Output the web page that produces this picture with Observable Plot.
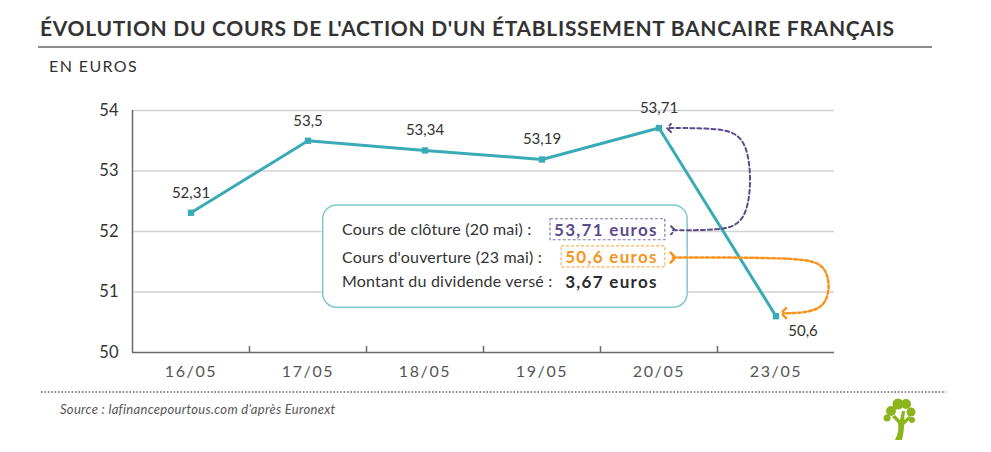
<!DOCTYPE html>
<html>
<head>
<meta charset="utf-8">
<script src="https://cdn.jsdelivr.net/npm/d3@7"></script>
<script src="https://cdn.jsdelivr.net/npm/@observablehq/plot@0.6"></script>
<style>
  html, body { margin: 0; padding: 0; background: #fff; }
  #wrap { position: relative; width: 991px; height: 452px; overflow: hidden; font-family: Lato, "Open Sans", sans-serif; color: #333; }
  #title { position: absolute; left: 40px; top: 15px; font-size: 21px; font-weight: 700; line-height: 26px; color: #333; white-space: nowrap; letter-spacing: 0.7px; }
  #rule { position: absolute; left: 38px; top: 46px; width: 894px; height: 2px; background: #8c8c8c; }
  #unit { position: absolute; left: 49px; top: 56px; font-size: 16px; line-height: 20px; color: #333; letter-spacing: 1.4px; }
  #chart { position: absolute; left: 0; top: 85px; }
  #dots { position: absolute; left: 40px; top: 390px; }
  #source { position: absolute; left: 60px; top: 401px; font-style: italic; font-size: 13px; line-height: 16px; color: #555; white-space: nowrap; letter-spacing: 0.3px; }
  #logo { position: absolute; left: 880px; top: 396px; }
</style>
</head>
<body>
<div id="wrap">
  <div id="title">ÉVOLUTION DU COURS DE L'ACTION D'UN ÉTABLISSEMENT BANCAIRE FRANÇAIS</div>
  <div id="rule"></div>
  <div id="unit">EN EUROS</div>
  <div id="chart"></div>
  <svg id="dots" width="910" height="4"><line x1="1" y1="2" x2="906" y2="2" stroke="#8a8a8a" stroke-width="2" stroke-dasharray="1.6,1.8"/></svg>
  <div id="source">Source : lafinancepourtous.com d’après Euronext</div>
  <svg id="logo" width="40" height="46" viewBox="0 0 40 46">
    <g fill="#8cb41c">
      <path d="M15 44 C18 38 19 32 18 27 L12 21 L15 19 L20 24 L22 15 L25 15 L24 24 L29 20 L31 22 L24 29 C24 35 23 40 22 44 Z"/>
      <circle cx="11" cy="15" r="5"/>
      <circle cx="18" cy="8" r="5.5"/>
      <circle cx="26" cy="8" r="5"/>
      <circle cx="31" cy="16" r="4.5"/>
      <circle cx="7" cy="22" r="3.5"/>
      <circle cx="32" cy="24" r="3"/>
    </g>
  </svg>
</div>
<script>
// ---- data ----
const dates = ["16/05", "17/05", "18/05", "19/05", "20/05", "23/05"];
const prices = [52.31, 53.5, 53.34, 53.19, 53.71, 50.6];
const priceLabels = ["52,31", "53,5", "53,34", "53,19", "53,71", "50,6"];
const yTicks = [50, 51, 52, 53, 54];
const annotationLabels = ["Cours de clôture (20 mai) :", "Cours d'ouverture (23 mai) :", "Montant du dividende versé :"];
const annotationValues = ["53,71 euros", "50,6 euros", "3,67 euros"];
const annotationColors = ["#5c4b8c", "#f7941d", "#2b2b2b"];

// ---- build ----
const teal = "#3aabb5";
const data = dates.map((d, i) => ({i, date: d, price: prices[i], label: priceLabels[i]}));
const n = dates.length;
const xDomain = [-0.5, n - 0.5];
const boundaries = d3.range(1, n).map(i => i - 0.5);
const iClose = 4, iOpen = 5;

// annotation layout (data units)
const rowY = [52.02, 51.57, 51.16];
const box = {x1: 1.13, x2: 4.245, y1: 50.74, y2: 52.43};
const labelX = 1.29;
const valueX = 3.99;
const purplePath = [
  {x: 4.12, y: rowY[0]}, {x: 4.5, y: rowY[0]}, {x: 4.79, y: rowY[0] + 0.1},
  {x: 4.79, y: prices[iClose] - 0.12}, {x: 4.5, y: prices[iClose]}, {x: 4.085, y: prices[iClose]}
];
const orangePath = [
  {x: 4.12, y: rowY[1]}, {x: 5.18, y: rowY[1]}, {x: 5.46, y: rowY[1] - 0.1},
  {x: 5.46, y: prices[iOpen] + 0.15}, {x: 5.22, y: prices[iOpen] + 0.05}, {x: 5.065, y: prices[iOpen] + 0.05}
];

const chart = Plot.plot({
  width: 991,
  height: 300,
  marginTop: 25,
  marginBottom: 33,
  marginLeft: 132,
  marginRight: 157,
  x: {type: "linear", domain: xDomain, axis: null},
  y: {domain: [50, 54], axis: null},
  style: {fontFamily: "Lato, 'Open Sans', sans-serif", background: "transparent", color: "#333"},
  marks: [
    Plot.ruleY(yTicks.filter(v => v > 50), {stroke: "#d2d2d2", strokeWidth: 1.5}),
    Plot.ruleY([50], {stroke: "#6a6a6a", strokeWidth: 1.5}),
    Plot.ruleX([xDomain[0]], {y1: 50, y2: 54, stroke: "#6a6a6a", strokeWidth: 1.5}),
    Plot.axisX(boundaries, {tickSize: -6, tickFormat: () => "", stroke: "#6a6a6a", strokeWidth: 1.5}),
    Plot.axisX(d3.range(n), {tickSize: 0, tickPadding: 13, tickFormat: i => dates[i], fontSize: 16, fill: "#555"}),
    Plot.axisY(yTicks, {tickSize: 0, tickPadding: 14, fontSize: 16.5, fill: "#333", tickFormat: d => d}),
    Plot.line(data, {x: "i", y: "price", stroke: teal, strokeWidth: 3}),
    Plot.dot(data, {x: "i", y: "price", symbol: "square", fill: teal, r: 3.6}),
    Plot.text(data.filter(d => d.i !== iOpen), {x: "i", y: "price", text: "label", dy: -20, fontSize: 15, fill: "#333"}),
    Plot.text(data.filter(d => d.i === iOpen), {x: "i", y: "price", text: "label", dx: 27, dy: 15, fontSize: 15, fill: "#333"}),
    Plot.rect([box], {x1: "x1", x2: "x2", y1: "y1", y2: "y2", fill: "white", stroke: "#80c8ce", strokeWidth: 1.5, rx: 14}),
    Plot.text(annotationLabels, {x: () => labelX, y: (d, i) => rowY[i], text: d => d, textAnchor: "start", fontSize: 16, fill: "#333", ariaLabel: () => "annlabel"}),
    ...annotationValues.map((v, i) => Plot.text([v], {
      x: () => valueX, y: () => rowY[i], text: d => d, textAnchor: "end",
      fontSize: 17, fontWeight: "bold", fill: annotationColors[i], ariaLabel: () => "annvalue" + i
    })),
    Plot.line(purplePath, {x: "x", y: "y", curve: "basis", stroke: annotationColors[0], strokeWidth: 2, strokeDasharray: "4,3", markerStart: "arrow", markerEnd: "arrow"}),
    Plot.line(orangePath, {x: "x", y: "y", curve: "basis", stroke: annotationColors[1], strokeWidth: 2.5, strokeDasharray: "3,2.5", markerStart: "arrow", markerEnd: "arrow"})
  ]
});
document.getElementById("chart").appendChild(chart);

// letter spacing to mimic the wider original typeface
chart.querySelectorAll('g[aria-label="x-axis tick label"] text').forEach(t => t.style.letterSpacing = "1.6px");
chart.querySelectorAll('text[aria-label="annlabel"]').forEach(t => t.style.letterSpacing = "0.2px");
[0, 1, 2].forEach(i => chart.querySelectorAll(`text[aria-label="annvalue${i}"]`).forEach(t => t.style.letterSpacing = "1.3px"));

// dashed frames around the two highlighted values
[0, 1].forEach(i => {
  const t = chart.querySelector(`text[aria-label="annvalue${i}"]`);
  if (!t) return;
  const b = t.getBBox();
  const tr = t.getAttribute("transform");
  const r = document.createElementNS("http://www.w3.org/2000/svg", "rect");
  r.setAttribute("x", b.x - 4);
  r.setAttribute("y", b.y);
  r.setAttribute("width", b.width + 11);
  r.setAttribute("height", b.height);
  r.setAttribute("fill", "none");
  r.setAttribute("stroke", annotationColors[i]);
  r.setAttribute("stroke-opacity", 0.75);
  r.setAttribute("stroke-width", 1.2);
  r.setAttribute("stroke-dasharray", "3,2");
  if (tr) r.setAttribute("transform", tr);
  t.parentNode.insertBefore(r, t);
});
</script>
</body>
</html>
